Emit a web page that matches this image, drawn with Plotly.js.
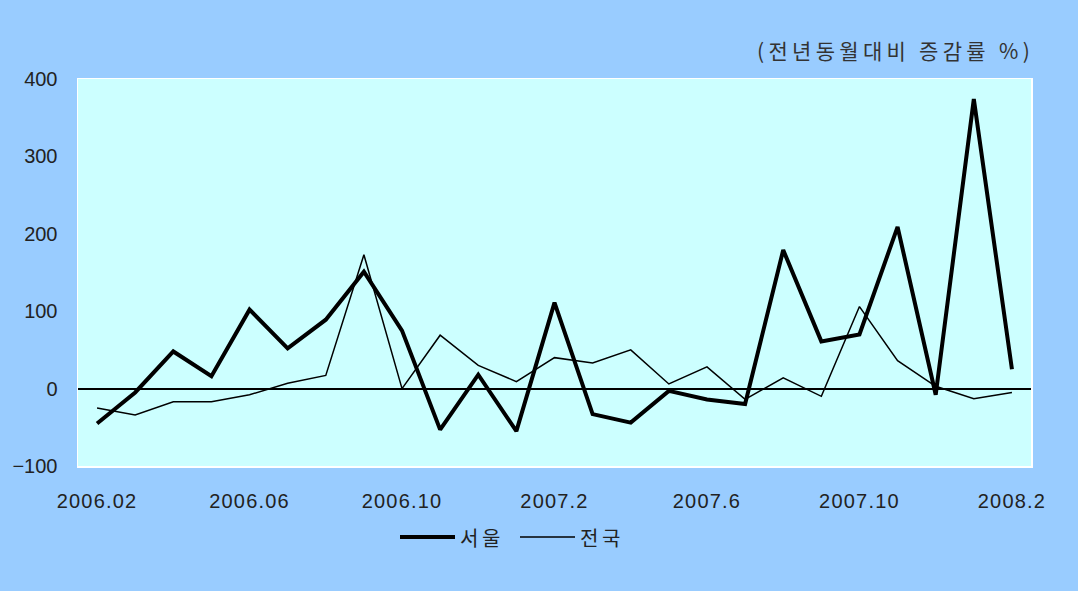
<!DOCTYPE html>
<html>
<head>
<meta charset="utf-8">
<script src="https://cdn.plot.ly/plotly-3.0.1.min.js"></script>
<style>html,body{margin:0;padding:0;background:#99CCFF;}#chart{width:1078px;height:591px;}</style>
</head>
<body>
<div id="chart"></div>
<script>
const months = ['2006.02','2006.03','2006.04','2006.05','2006.06','2006.07','2006.08','2006.09','2006.10','2006.11','2006.12','2007.01','2007.02','2007.03','2007.04','2007.05','2007.06','2007.07','2007.08','2007.09','2007.10','2007.11','2007.12','2008.01','2008.02'];
const seoul = [-45,-5,48,16,102,52,89,151,75,-53,18,-55,111,-33,-44,-3,-14,-20,179,61,70,209,-8,374,25];
const national = [-25,-34,-17,-17,-8,7,17,173,0,69,30,9,40,33,50,6,28,-14,14,-10,106,36,3,-13,-5];
const tickVals = ['2006.02','2006.06','2006.10','2007.02','2007.06','2007.10','2008.02'];
const tickText = ['2006.02','2006.06','2006.10','2007.2','2007.6','2007.10','2008.2'];
const seriesNames = ['서울','전국'];
const unitLabel = '(전년동월대비 증감률 %)';

const font = 'Liberation Sans, Arial, sans-serif';
const kfont = 'Noto Sans CJK KR, sans-serif';

const W = 1078, H = 591, L = 78, R = 47, T = 79, B = 125;
const pw = W - L - R, ph = H - T - B;
const px = v => (v - L) / pw;
const py = v => (H - B - v) / ph;

const data = [
  {x: months, y: seoul, name: seriesNames[0], type: 'scatter', mode: 'lines', line: {color: '#000', width: 4}},
  {x: months, y: national, name: seriesNames[1], type: 'scatter', mode: 'lines', line: {color: '#000', width: 1.5}}
];

const sp = s => '<span style="letter-spacing:1.2px">' + s + '</span>';

const legY = py(537);
const layout = {
  width: W, height: H,
  paper_bgcolor: '#99CCFF',
  plot_bgcolor: '#CCFFFF',
  margin: {l: L, r: R, t: T, b: B},
  showlegend: false,
  xaxis: {type: 'category', categoryorder: 'array', categoryarray: months,
          range: [-0.5, months.length - 0.5], tickmode: 'array', tickvals: tickVals, ticktext: tickText.map(sp),
          showgrid: false, zeroline: false, showline: true, mirror: true, linecolor: '#fff', linewidth: 1.5,
          ticks: '', ticklabelstandoff: 16, tickfont: {family: font, size: 20, color: '#222'}},
  yaxis: {range: [-100, 400], tickvals: [-100, 0, 100, 200, 300, 400], ticktext: ['−100','0','100','200','300','400'],
          showgrid: false, zeroline: true, zerolinecolor: '#000', zerolinewidth: 2,
          showline: true, mirror: true, linecolor: '#fff', linewidth: 1.5,
          ticks: '', ticklabelstandoff: 15, tickfont: {family: font, size: 20, color: '#222'}},
  shapes: [
    {type: 'line', xref: 'paper', yref: 'paper', x0: px(400), x1: px(455), y0: legY, y1: legY, line: {color: '#000', width: 4}},
    {type: 'line', xref: 'paper', yref: 'paper', x0: px(520), x1: px(575), y0: legY, y1: legY, line: {color: '#000', width: 1.5}}
  ],
  annotations: [
    {text: '<span style="letter-spacing:4.3px">' + unitLabel + '</span>', xref: 'paper', yref: 'paper', x: px(1036), xanchor: 'right', y: py(50), yanchor: 'middle',
     showarrow: false, font: {family: kfont, size: 21, color: '#333'}},
    {text: '<span style="letter-spacing:3.5px">' + seriesNames[0] + '</span>', xref: 'paper', yref: 'paper', x: px(458), xanchor: 'left', y: legY, yanchor: 'middle',
     showarrow: false, font: {family: kfont, size: 20, color: '#222'}},
    {text: '<span style="letter-spacing:3.5px">' + seriesNames[1] + '</span>', xref: 'paper', yref: 'paper', x: px(578), xanchor: 'left', y: legY, yanchor: 'middle',
     showarrow: false, font: {family: kfont, size: 20, color: '#222'}}
  ]
};

Plotly.newPlot('chart', data, layout, {displayModeBar: false, staticPlot: true});
</script>
</body>
</html>
